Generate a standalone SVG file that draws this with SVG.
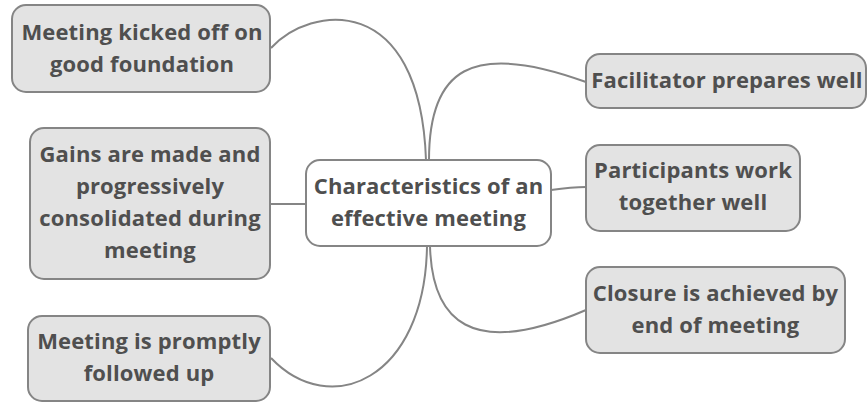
<svg xmlns="http://www.w3.org/2000/svg" width="867" height="404" viewBox="0 0 867 404">
  <style>
    .box { fill: #e3e3e3; stroke: #858585; stroke-width: 2; }
    .hub { fill: #ffffff; stroke: #858585; stroke-width: 2; }
    .lbl { font-family: "Open Sans", "Noto Sans", "Liberation Sans", sans-serif; font-weight: bold; font-size: 22px; letter-spacing: 0.15px; fill: #4f4f4f; text-anchor: middle; }
    .link { fill: none; stroke: #858585; stroke-width: 2; }
  </style>
  <rect width="867" height="404" fill="#ffffff"/>

  <!-- connectors -->
  <g id="connectors">
    <path class="link" d="M 271 48 C 310 5, 420 -10, 426 160"/>
    <path class="link" d="M 429 160 C 429 70, 470 40, 586 82"/>
    <path class="link" d="M 270 204 L 306 204"/>
    <path class="link" d="M 551 190 C 565 188, 572 187, 586 187"/>
    <path class="link" d="M 430 246 C 432 320, 470 360, 586 310"/>
    <path class="link" d="M 427 246 C 425 380, 330 420, 271 358"/>
  </g>

  <!-- central topic -->
  <g id="center">
    <rect class="hub" x="306" y="160" width="245" height="86" rx="14"/>
    <text class="lbl" x="428.5" y="194">Characteristics of an</text>
    <text class="lbl" x="428.5" y="226">effective meeting</text>
  </g>

  <!-- left branches -->
  <g id="kickoff">
    <rect class="box" x="12" y="5" width="258" height="87" rx="14"/>
    <text class="lbl" x="142" y="40">Meeting kicked off on</text>
    <text class="lbl" x="142" y="72">good foundation</text>
  </g>
  <g id="gains">
    <rect class="box" x="30" y="128" width="240" height="151" rx="14"/>
    <text class="lbl" x="150" y="162">Gains are made and</text>
    <text class="lbl" x="150" y="194">progressively</text>
    <text class="lbl" x="150" y="226">consolidated during</text>
    <text class="lbl" x="150" y="258">meeting</text>
  </g>
  <g id="followup">
    <rect class="box" x="28" y="316" width="242" height="85" rx="14"/>
    <text class="lbl" x="149" y="349">Meeting is promptly</text>
    <text class="lbl" x="149" y="381">followed up</text>
  </g>

  <!-- right branches -->
  <g id="facilitator">
    <rect class="box" x="586" y="54" width="280" height="54" rx="14"/>
    <text class="lbl" x="727" y="88">Facilitator prepares well</text>
  </g>
  <g id="participants">
    <rect class="box" x="586" y="145" width="214" height="86" rx="14"/>
    <text class="lbl" x="693" y="178">Participants work</text>
    <text class="lbl" x="693" y="210">together well</text>
  </g>
  <g id="closure">
    <rect class="box" x="586" y="267" width="259" height="86" rx="14"/>
    <text class="lbl" x="715.5" y="301">Closure is achieved by</text>
    <text class="lbl" x="715.5" y="333">end of meeting</text>
  </g>
</svg>
